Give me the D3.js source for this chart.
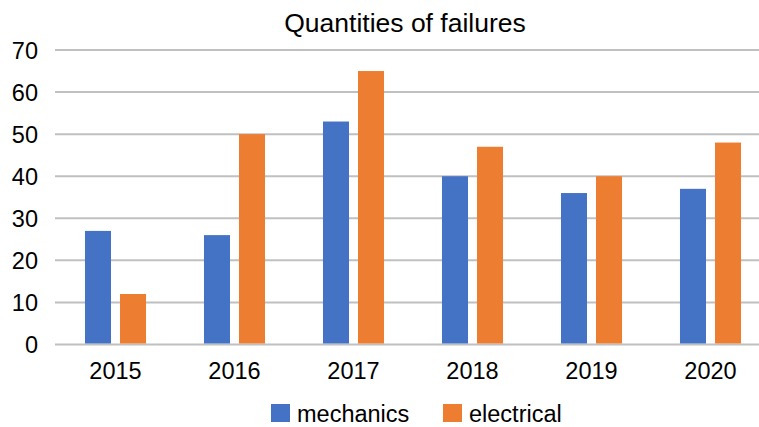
<!DOCTYPE html>
<html lang="en">
  <head>
    <meta charset="UTF-8" />
    <title>Quantities of failures</title>
    <style>
      body { margin: 0; background: #fff; }
      text { font-family: "Liberation Sans", Arial, sans-serif; fill: #000; }
    </style>
  </head>
  <body>
    <script src="https://d3js.org/d3.v7.min.js"></script>
    <script>
      const years = ["2015", "2016", "2017", "2018", "2019", "2020"];
      const series = ["mechanics", "electrical"];
      const mechanics = [27, 26, 53, 40, 36, 37];
      const electrical = [12, 50, 65, 47, 40, 48];
      const yTicks = [0, 10, 20, 30, 40, 50, 60, 70];
      const colors = ["#4472C4", "#ED7D31"];

      const values = [mechanics, electrical];

      const width = 759,
        height = 427;

      const svg = d3
        .select("body")
        .append("svg")
        .attr("width", width)
        .attr("height", height);

      const x0 = d3
        .scaleBand()
        .domain(years)
        .range([56, 770])
        .paddingInner(0.487)
        .paddingOuter(0.2435);

      const x1 = d3
        .scaleBand()
        .domain(series)
        .range([0, x0.bandwidth()])
        .paddingInner(0.257);

      const y = d3.scaleLinear().domain([0, 70]).range([344.5, 50]);

      // gridlines
      svg
        .append("g")
        .selectAll("line")
        .data(yTicks)
        .join("line")
        .attr("x1", 55)
        .attr("x2", 770)
        .attr("y1", (d) => y(d))
        .attr("y2", (d) => y(d))
        .attr("stroke", "#c0c0c0")
        .attr("stroke-width", 2);

      // bars
      series.forEach((s, i) => {
        svg
          .append("g")
          .attr("fill", colors[i])
          .selectAll("rect")
          .data(values[i])
          .join("rect")
          .attr("x", (d, j) => x0(years[j]) + x1(s))
          .attr("width", x1.bandwidth())
          .attr("y", (d) => y(d))
          .attr("height", (d) => y(0) - y(d) - 1);
      });

      // y labels
      svg
        .append("g")
        .selectAll("text")
        .data(yTicks)
        .join("text")
        .attr("x", 38)
        .attr("y", (d) => y(d) + 8.5)
        .attr("text-anchor", "end")
        .style("font-size", "23.5px")
        .text((d) => d);

      // x labels
      svg
        .append("g")
        .selectAll("text")
        .data(years)
        .join("text")
        .attr("x", (d) => x0(d) + x0.bandwidth() / 2)
        .attr("y", 379)
        .attr("text-anchor", "middle")
        .style("font-size", "23.5px")
        .text((d) => d);

      // title
      svg
        .append("text")
        .attr("x", 405)
        .attr("y", 32)
        .attr("text-anchor", "middle")
        .style("font-size", "26.5px")
        .text("Quantities of failures");

      // legend
      const legendX = [271, 443];
      series.forEach((s, i) => {
        const g = svg.append("g").attr("transform", `translate(${legendX[i]}, 404)`);
        g.append("rect").attr("width", 19).attr("height", 18).attr("fill", colors[i]);
        g.append("text")
          .attr("x", 26)
          .attr("y", 17.5)
          .style("font-size", "23.5px")
          .text(s);
      });
    </script>
  </body>
</html>
